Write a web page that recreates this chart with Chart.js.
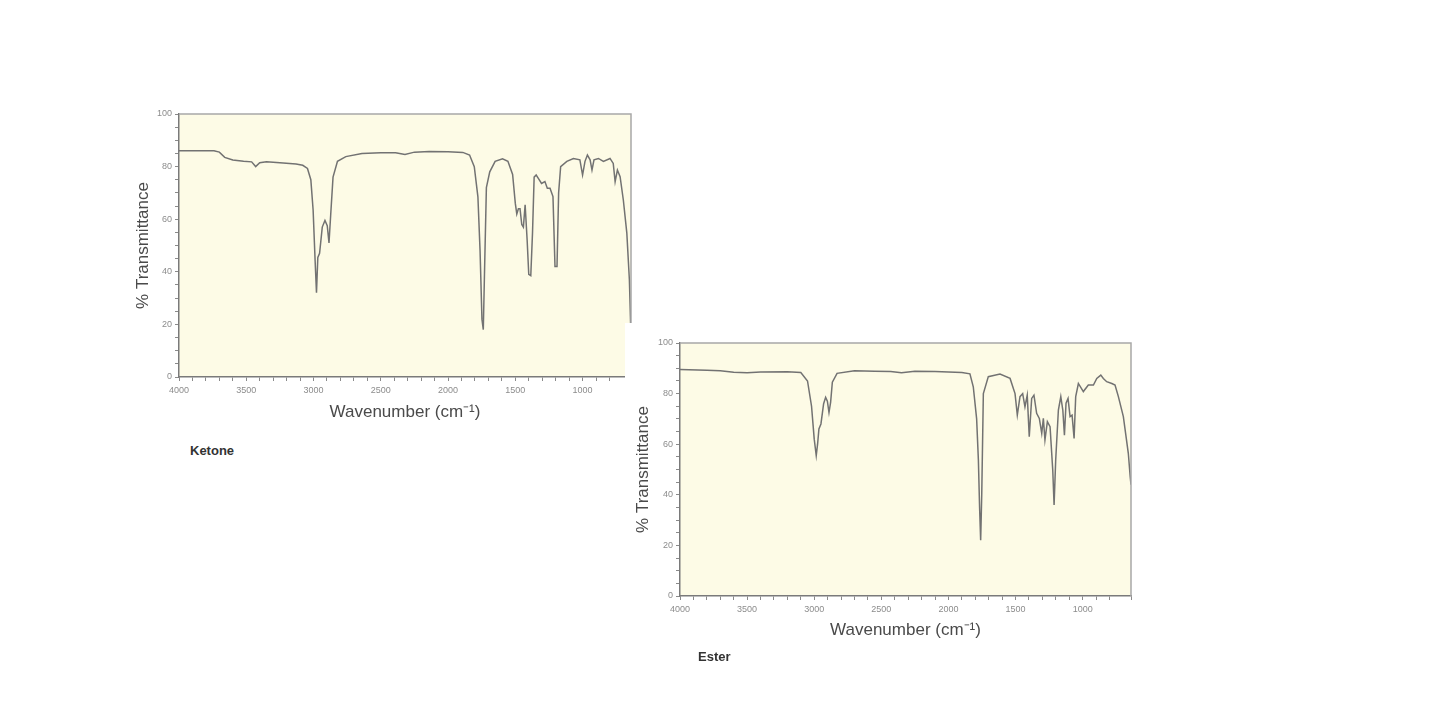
<!DOCTYPE html>
<html>
<head>
<meta charset="utf-8">
<script src="https://cdn.jsdelivr.net/npm/chart.js@4.4.1/dist/chart.umd.min.js"></script>
<style>
  body { margin: 0; background: #fff; width: 1440px; height: 720px; position: relative; overflow: hidden; font-family: "Liberation Sans", Arial, sans-serif; }
  .box { position: absolute; }
  #ketoneBox { left: 125px; top: 100px; width: 510px; height: 330px; z-index: 1; }
  #esterBox { left: 625px; top: 323px; width: 515px; height: 330px; z-index: 2; background: #fff; }
  .tag { position: absolute; z-index: 3; font-size: 13px; font-weight: bold; color: #333; line-height: 16px; }
</style>
</head>
<body>
<div class="box" id="ketoneBox"><canvas id="ketoneChart" width="510" height="330"></canvas></div>
<div class="box" id="esterBox"><canvas id="esterChart" width="515" height="330"></canvas></div>
<div class="tag" style="left:190px; top:443px;">Ketone</div>
<div class="tag" style="left:698px; top:649px;">Ester</div>
<script>
// ketone spectrum (wavenumber cm-1, % transmittance)
const ketoneWavenumbers = [
  4000, 3900, 3740, 3700, 3660, 3600, 3520, 3460, 3430, 3400, 3350, 3250, 3130, 3080,
  3045, 3020, 3003, 2988, 2978, 2968, 2955, 2935, 2915, 2898, 2885, 2872, 2855, 2822,
  2760, 2640, 2500, 2390, 2320, 2250, 2140, 2000, 1890, 1840, 1805, 1778, 1762, 1748,
  1738, 1728, 1715, 1690, 1650, 1595, 1555, 1520, 1500, 1489, 1477, 1465, 1452, 1440,
  1427, 1412, 1400, 1385, 1372, 1360, 1345, 1330, 1305, 1280, 1262, 1242, 1220, 1205,
  1190, 1178, 1163, 1117, 1068, 1020, 1000, 982, 964, 944, 930, 915, 882, 845, 796,
  772, 758, 741, 721, 697, 671, 652, 640
];
const ketoneTransmittance = [
  86, 86, 86, 85.5, 83.5, 82.5, 82, 81.8, 80, 81.5, 81.8, 81.5, 81, 80.5,
  79.3, 75, 63.5, 44, 32, 45.5, 47, 57, 59.5, 57.5, 51, 62, 76, 82,
  83.8, 85, 85.3, 85.3, 84.6, 85.5, 85.7, 85.6, 85.4, 84.4, 80, 68.5, 48, 22,
  18, 42, 72, 78, 82, 83, 82, 77, 66, 62, 64, 64, 58, 57,
  65.5, 52, 39, 38.5, 55, 76, 76.8, 75.6, 73.6, 74.3, 71.8, 71.8, 68.6, 42,
  42, 70, 80, 82, 83.1, 82.6, 76.8, 82, 84.4, 82.6, 78.7, 82.6, 83.1, 82, 83.1,
  81.2, 74.3, 78.7, 76.2, 67.3, 54.7, 37, 15
];

// ester spectrum
const esterWavenumbers = [
  4000, 3800, 3700, 3600, 3500, 3400, 3200, 3100, 3050, 3020, 3000, 2985, 2975, 2965,
  2950, 2930, 2915, 2902, 2890, 2878, 2865, 2830, 2700, 2550, 2430, 2350, 2250, 2100,
  2000, 1900, 1840, 1815, 1790, 1777, 1768, 1760, 1752, 1740, 1703, 1616, 1541, 1504,
  1487, 1467, 1447, 1430, 1413, 1398, 1380, 1363, 1343, 1323, 1305, 1293, 1281, 1263,
  1243, 1223, 1213, 1201, 1181, 1163, 1148, 1136, 1124, 1109, 1094, 1079, 1064, 1052,
  1032, 995, 958, 920, 895, 865, 846, 821, 783, 759, 734, 697, 660, 646, 640
];
const esterTransmittance = [
  89.5, 89.2, 89, 88.4, 88.2, 88.5, 88.6, 88.3, 85, 75, 62, 55.5, 60, 66,
  68, 76, 78.5, 77, 72.5, 76.5, 84.5, 88, 89, 88.8, 88.7, 88.2, 88.8, 88.7,
  88.5, 88.3, 87.8, 82.7, 70, 53.8, 35, 22, 40, 80, 86.7, 87.7, 86, 80,
  71.5, 78.8, 80, 74.8, 79.4, 63, 78.1, 79.4, 72.2, 70.2, 64.3, 70.2, 61.7, 68.9,
  66.9, 49.8, 36, 53.8, 73.5, 78.8, 73.5, 63.6, 76.2, 78.1, 70.9, 71.5, 62.3, 78.8,
  84, 80.8, 83.4, 83.4, 86, 87.3, 86, 84.7, 84, 83.4, 78.8, 70.9, 56.4, 47.2, 44
];

const xMin = 640;
const xMax = 4000;
const xTitle = "Wavenumber (cm\u207B\u00B9)";
const yTitle = "% Transmittance";

const plotFrame = {
  id: "plotFrame",
  beforeDraw(chart) {
    const { ctx, chartArea: a } = chart;
    ctx.save();
    ctx.fillStyle = "#fdfbe6";
    ctx.fillRect(a.left, a.top, a.right - a.left, a.bottom - a.top);
    ctx.restore();
  },
  afterDraw(chart) {
    const { ctx, chartArea: a } = chart;
    ctx.save();
    ctx.strokeStyle = "#a8a8a8";
    ctx.lineWidth = 1.5;
    ctx.beginPath();
    ctx.moveTo(a.left, a.top);
    ctx.lineTo(a.right, a.top);
    ctx.lineTo(a.right, a.bottom);
    ctx.stroke();
    ctx.restore();
  },
};

function makeChart(id, xs, ys, yWidth, xHeight, padding) {
  const points = xs.map((x, i) => ({ x: x, y: ys[i] }));
  return new Chart(document.getElementById(id), {
    type: "line",
    data: {
      datasets: [
        {
          data: points,
          borderColor: "#727272",
          borderWidth: 1.5,
          pointRadius: 0,
          tension: 0,
        },
      ],
    },
    options: {
      responsive: false,
      animation: false,
      layout: { padding: padding },
      plugins: { legend: { display: false }, tooltip: { enabled: false } },
      scales: {
        x: {
          type: "linear",
          reverse: true,
          min: xMin,
          max: xMax,
          afterFit: (s) => { s.height = xHeight; },
          grid: { drawOnChartArea: false, tickLength: 4, color: "#8a8a8a" },
          border: { color: "#7a7a7a", width: 1.5 },
          ticks: {
            stepSize: 100,
            autoSkip: false,
            maxRotation: 0,
            padding: 4,
            color: "#8c8c8c",
            font: { size: 9, family: "Liberation Sans" },
            callback: (v) => (v % 500 === 0 ? v : ""),
          },
          title: {
            display: true,
            text: xTitle,
            color: "#4a4a4a",
            font: { size: 17, family: "Liberation Sans" },
            padding: { top: 0, bottom: 1 },
          },
        },
        y: {
          min: 0,
          max: 100,
          afterFit: (s) => { s.width = yWidth; },
          grid: { drawOnChartArea: false, tickLength: 4, color: "#8a8a8a" },
          border: { color: "#7a7a7a", width: 1.5 },
          ticks: {
            stepSize: 5,
            autoSkip: false,
            padding: 3,
            color: "#8c8c8c",
            font: { size: 9, family: "Liberation Sans" },
            callback: (v) => (v % 20 === 0 ? v : ""),
          },
          title: {
            display: true,
            text: yTitle,
            color: "#4a4a4a",
            font: { size: 17, family: "Liberation Sans" },
            padding: { top: 8, bottom: 0 },
          },
        },
      },
    },
    plugins: [plotFrame],
  });
}

makeChart("ketoneChart", ketoneWavenumbers, ketoneTransmittance, 54, 47,
  { left: 0, top: 14, right: 4, bottom: 6 });
makeChart("esterChart", esterWavenumbers, esterTransmittance, 55, 46,
  { left: 0, top: 20, right: 9, bottom: 11 });
</script>
</body>
</html>
